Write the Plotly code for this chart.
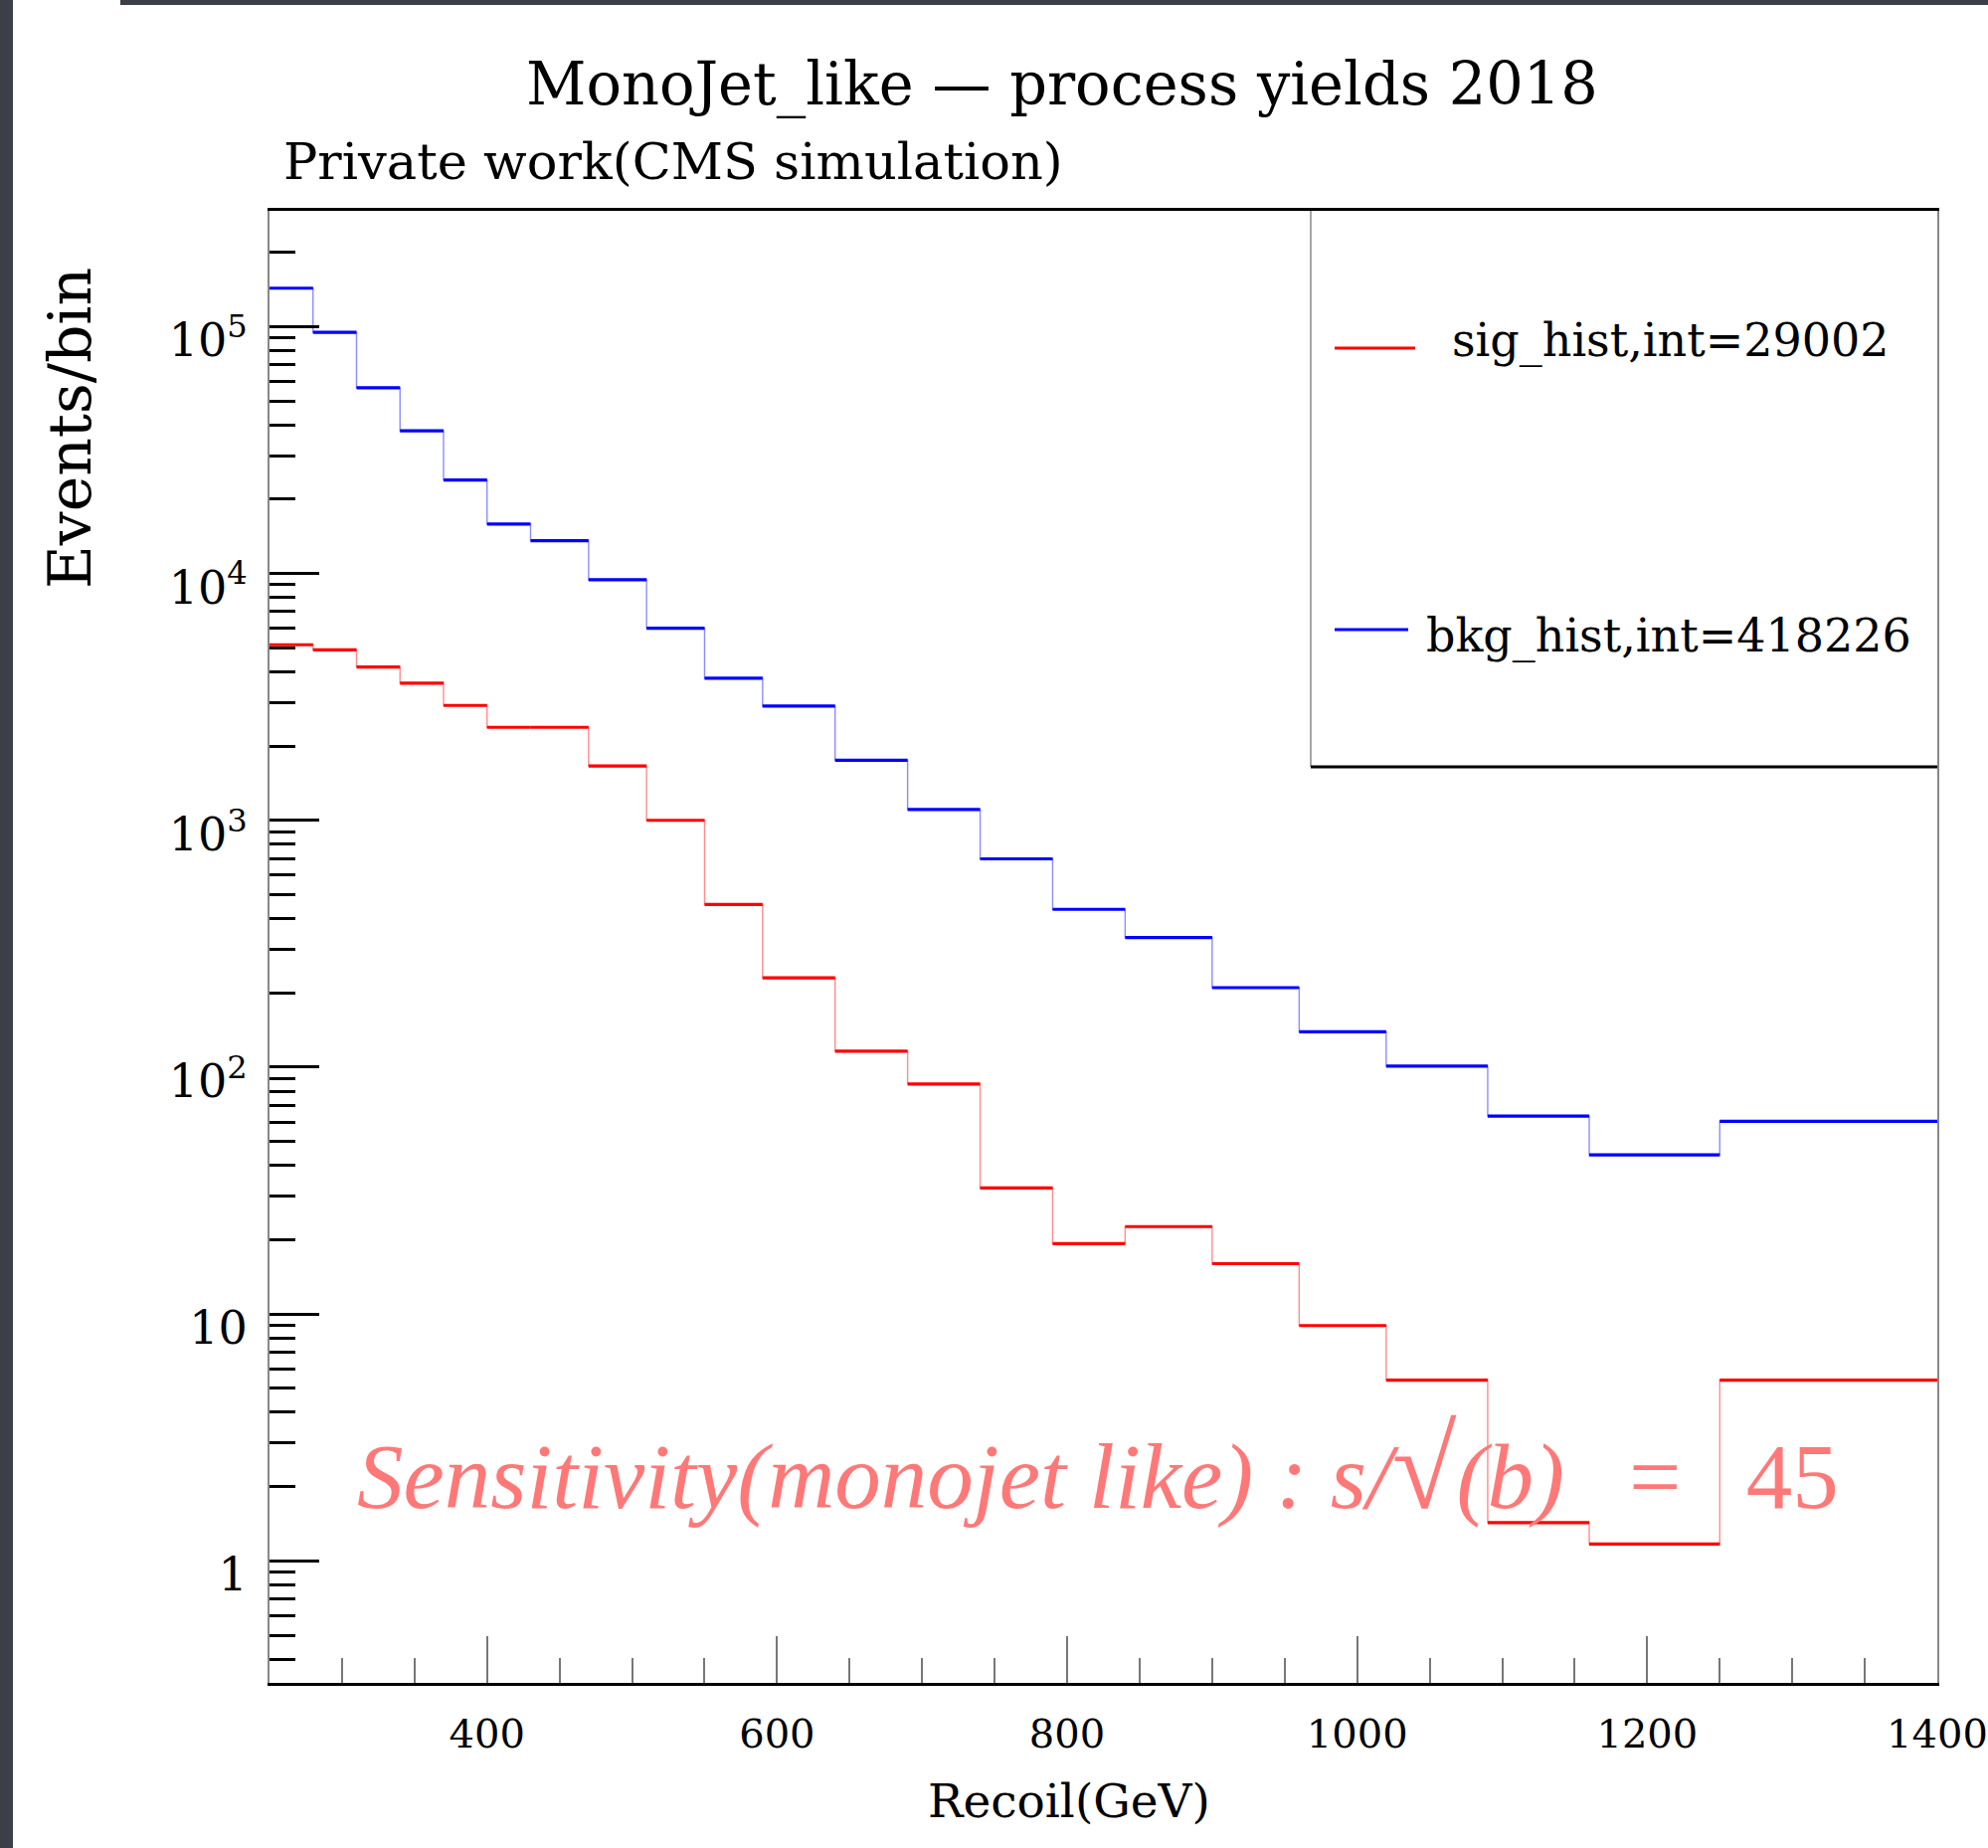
import plotly.graph_objects as go

# ---------------- data ----------------
bin_edges = [250, 280, 310, 340, 370, 400, 430, 470, 510, 550, 590, 640, 690,
             740, 790, 840, 900, 960, 1020, 1090, 1160, 1250, 1400]
sig_vals = [5140, 4900, 4180, 3590, 2920, 2380, 2380, 1660, 1000, 456, 230, 116,
            85.5, 32.4, 19.3, 22.6, 16.0, 8.98, 5.40, 1.43, 1.17, 5.40]
bkg_vals = [143000, 94700, 56500, 37800, 23900, 15850, 13560, 9420, 6000, 3760,
            2900, 1750, 1107, 698, 436, 335, 210, 139, 101, 63.4, 44.1, 60.4]
sig_label = "sig_hist,int=29002"
bkg_label = "bkg_hist,int=418226"
x_ticks = [400, 600, 800, 1000, 1200, 1400]
y_ticks = [1, 10, 100, 1000, 10000, 100000]
y_ticktext = ["1", "10", "10<sup>2</sup>", "10<sup>3</sup>", "10<sup>4</sup>", "10<sup>5</sup>"]

W, H = 1999, 1858
L, R, T, B = 271, 1948, 212, 1692   # plot area in pixels


def px(x):
    return (x - L) / (R - L)


def py(y):
    return (B - y) / (B - T)


SERIF = "DejaVu Serif"

fig = go.Figure()


def add_hist(vals, color, light):
    # thin connecting step line
    xs = list(bin_edges)
    ys = list(vals) + [vals[-1]]
    fig.add_trace(go.Scatter(x=xs, y=ys, mode="lines", line_shape="hv",
                             line=dict(color=light, width=1.4),
                             hoverinfo="skip", showlegend=False))
    # bold horizontal bin contents
    hx, hy = [], []
    for i, v in enumerate(vals):
        hx += [bin_edges[i], bin_edges[i + 1], None]
        hy += [v, v, None]
    fig.add_trace(go.Scatter(x=hx, y=hy, mode="lines",
                             line=dict(color=color, width=3.2),
                             showlegend=False))


add_hist(bkg_vals, "#0000ff", "rgba(0,0,255,0.45)")
add_hist(sig_vals, "#ff0000", "rgba(255,0,0,0.45)")

shapes = []
# dark frame strips of the screenshot
shapes.append(dict(type="rect", xref="paper", yref="paper", x0=px(0), x1=px(13),
                   y0=py(H), y1=py(0), fillcolor="#3c3f48", line_width=0,
                   layer="below"))
shapes.append(dict(type="rect", xref="paper", yref="paper", x0=px(121), x1=px(W),
                   y0=py(5), y1=py(0), fillcolor="#3c3f48", line_width=0,
                   layer="below"))
# legend box
shapes.append(dict(type="line", xref="paper", yref="paper", x0=px(1318), x1=px(1318),
                   y0=py(771), y1=1, line=dict(color="#888888", width=1.5)))
shapes.append(dict(type="line", xref="paper", yref="paper", x0=px(1318), x1=1,
                   y0=py(771), y1=py(771), line=dict(color="black", width=3)))
shapes.append(dict(type="line", xref="paper", yref="paper", x0=px(1342), x1=px(1423),
                   y0=py(350), y1=py(350), line=dict(color="#ff0000", width=3)))
shapes.append(dict(type="line", xref="paper", yref="paper", x0=px(1342), x1=px(1416),
                   y0=py(633), y1=py(633), line=dict(color="#0000ff", width=3)))

sens_text = ("<i>Sensitivity(monojet like)\u00a0:\u00a0s/</i>"
             "<span style=\"font-size:118px\">√</span>"
             "<i>(b)</i>\u00a0\u00a0\u2009=\u00a0\u00a0\u2009" + "45")

annotations = [
    dict(text="MonoJet_like — process yields 2018", x=px(1068), y=py(84),
         xref="paper", yref="paper", xanchor="center", yanchor="middle",
         showarrow=False, font=dict(family=SERIF, size=59, color="black")),
    dict(text="Private work(CMS simulation)", x=px(283), y=py(163),
         xref="paper", yref="paper", xanchor="left", yanchor="middle",
         showarrow=False, font=dict(family=SERIF, size=51, color="black")),
    dict(text="Events/bin", x=px(70), y=py(431), textangle=-90,
         xref="paper", yref="paper", xanchor="center", yanchor="middle",
         showarrow=False, font=dict(family=SERIF, size=60, color="black")),
    dict(text="Recoil(GeV)", x=px(1075), y=py(1810),
         xref="paper", yref="paper", xanchor="center", yanchor="middle",
         showarrow=False, font=dict(family=SERIF, size=47, color="black")),
    dict(text=sig_label, x=px(1680), y=py(342),
         xref="paper", yref="paper", xanchor="center", yanchor="middle",
         showarrow=False, font=dict(family=SERIF, size=46, color="black")),
    dict(text=bkg_label, x=px(1678), y=py(639),
         xref="paper", yref="paper", xanchor="center", yanchor="middle",
         showarrow=False, font=dict(family=SERIF, size=46, color="black")),
    dict(text=sens_text,
         x=px(357), y=py(1476),
         xref="paper", yref="paper", xanchor="left", yanchor="middle",
         showarrow=False,
         font=dict(family="Liberation Serif", size=93, color="#ff7878")),
]

fig.update_layout(
    width=W, height=H,
    margin=dict(l=L, r=W - R, t=T, b=H - B, pad=0, autoexpand=False),
    paper_bgcolor="white", plot_bgcolor="white",
    showlegend=False,
    shapes=shapes, annotations=annotations,
    font=dict(family=SERIF, color="black"),
    xaxis=dict(range=[250, 1400], tickvals=x_ticks, automargin=False,
               ticklabeloverflow="allow",
               ticks="inside", ticklen=47, tickwidth=1.5, tickcolor="#777777",
               showline=True, linecolor="black", linewidth=3, mirror=True,
               showgrid=False, zeroline=False,
               minor=dict(ticks="inside", ticklen=25, tickwidth=1.5,
                          tickcolor="#777777", dtick=50, tick0=250, showgrid=False),
               tickfont=dict(family=SERIF, size=40, color="black"),
               ticklabelstandoff=14),
    yaxis=dict(type="log", range=[-0.494, 5.4686], automargin=False,
               ticklabeloverflow="allow",
               tickvals=y_ticks, ticktext=y_ticktext,
               ticks="inside", ticklen=50, tickwidth=3, tickcolor="black",
               showline=True, linecolor="#888888", linewidth=2, mirror=True,
               showgrid=False, zeroline=False,
               minor=dict(ticks="inside", ticklen=26, tickwidth=3,
                          tickcolor="black", dtick="D1", showgrid=False),
               tickfont=dict(family=SERIF, size=46, color="black"),
               ticklabelstandoff=11, ticklabelshift=14),
)

fig.write_html("out.html")
